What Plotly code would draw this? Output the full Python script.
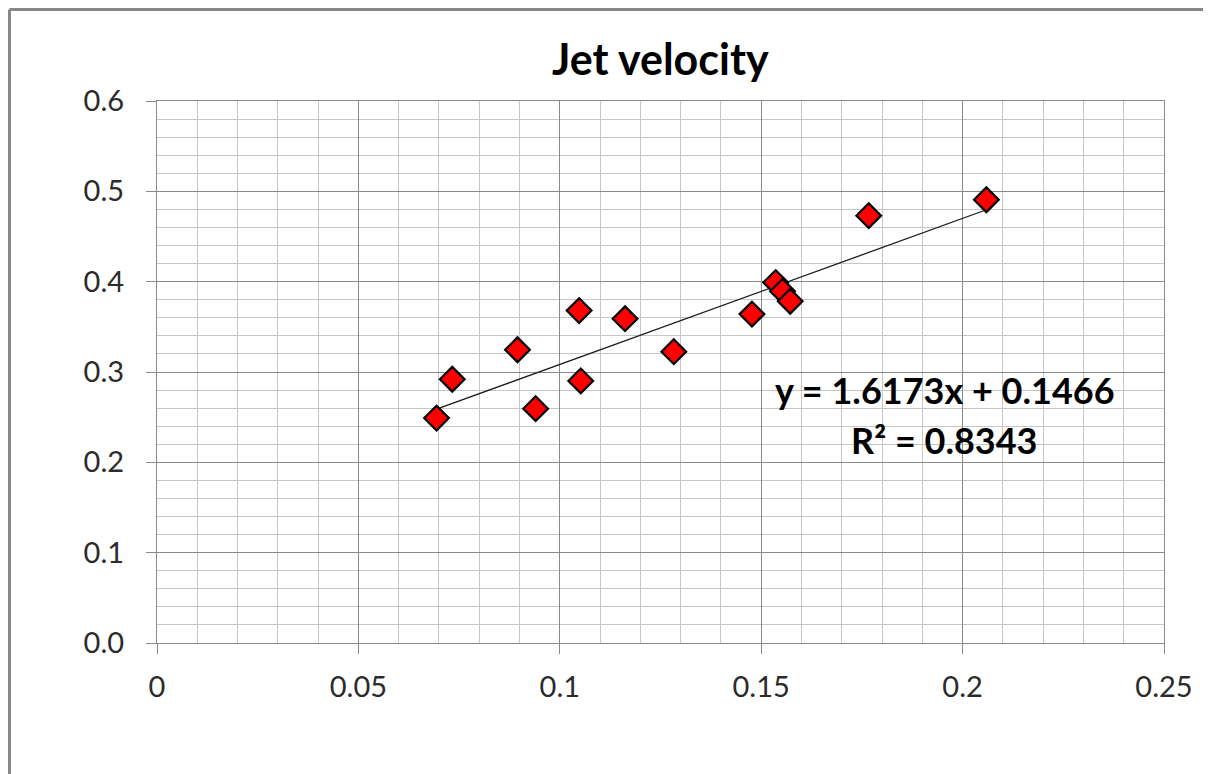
import plotly.graph_objects as go

# Data
x_vals = [0.0694, 0.0733, 0.0895, 0.0940, 0.1048, 0.1052, 0.1162, 0.1283,
          0.1477, 0.1536, 0.1553, 0.1572, 0.1767, 0.2059]
y_vals = [0.2490, 0.2920, 0.3246, 0.2594, 0.3680, 0.2901, 0.3590, 0.3225,
          0.3641, 0.3990, 0.3893, 0.3783, 0.4731, 0.4907]
slope = 1.6173
intercept = 0.1466
r2 = 0.8343
title_text = "Jet velocity"
x_ticks = [0, 0.05, 0.1, 0.15, 0.2, 0.25]
y_ticks = [0.0, 0.1, 0.2, 0.3, 0.4, 0.5, 0.6]

FONT = "Lato, 'Open Sans', sans-serif"

x_line = [min(x_vals), max(x_vals)]
y_line = [slope * v + intercept for v in x_line]

fig = go.Figure()
fig.add_trace(go.Scatter(
    x=x_line, y=y_line, mode="lines",
    line=dict(color="#1a1a1a", width=1.3),
    hoverinfo="skip", showlegend=False,
))
fig.add_trace(go.Scatter(
    x=x_vals, y=y_vals, mode="markers",
    marker=dict(symbol="diamond", size=19, color="#ff0000",
                line=dict(color="#000000", width=2.2)),
    showlegend=False,
))

grid_major = "#8a8a8a"
grid_minor = "#c6c6c6"
tick_font = dict(family=FONT, size=29, color="#2b2b2b")

fig.update_xaxes(
    range=[0, 0.25], tickvals=x_ticks, ticktext=[f"{v:g}" for v in x_ticks],
    showgrid=True, gridcolor=grid_major, gridwidth=1,
    minor=dict(dtick=0.01, showgrid=True, gridcolor=grid_minor, gridwidth=1, ticks=""),
    showline=True, linecolor=grid_major, linewidth=1.3, mirror=True,
    ticks="outside", ticklen=10, tickcolor=grid_major, tickwidth=1,
    ticklabelstandoff=8,
    tickfont=tick_font, zeroline=False, fixedrange=True,
)
fig.update_yaxes(
    range=[0, 0.6], tickvals=y_ticks, ticktext=[f"{v:.1f}" for v in y_ticks],
    showgrid=True, gridcolor=grid_major, gridwidth=1,
    minor=dict(dtick=0.02, showgrid=True, gridcolor=grid_minor, gridwidth=1, ticks=""),
    showline=True, linecolor=grid_major, linewidth=1.3, mirror=True,
    ticks="outside", ticklen=10, tickcolor=grid_major, tickwidth=1,
    ticklabelstandoff=16,
    tickfont=tick_font, zeroline=False, fixedrange=True,
)

fig.add_annotation(
    x=0.5, y=1.079, xref="paper", yref="paper", showarrow=False,
    text=f"<b>{title_text}</b>", font=dict(family=FONT, size=43, color="#000000"),
    xanchor="center", yanchor="middle",
)
fig.add_annotation(
    x=0.7825, y=0.467, xref="paper", yref="paper", showarrow=False,
    text=f"<b>y = {slope:.4f}x + {intercept:.4f}</b>",
    font=dict(family=FONT, size=36, color="#000000"),
    xanchor="center", yanchor="middle",
)
fig.add_annotation(
    x=0.7825, y=0.3745, xref="paper", yref="paper", showarrow=False,
    text=f"<b>R² = {r2:.4f}</b>",
    font=dict(family=FONT, size=36, color="#000000"),
    xanchor="center", yanchor="middle",
)

# Outer chart-area frame: only top and left edges are visible in the reference
frame_style = dict(color="#878787", width=3)
fig.add_shape(type="line", xref="paper", yref="paper",
              x0=-0.1465, x1=1.2, y0=1.1688, y1=1.1688,
              line=frame_style, layer="above")
fig.add_shape(type="line", xref="paper", yref="paper",
              x0=-0.1465, x1=-0.1465, y0=-0.4, y1=1.1688,
              line=frame_style, layer="above")

fig.update_layout(
    width=1211, height=774,
    margin=dict(l=149, r=55, t=93, b=139),
    paper_bgcolor="white", plot_bgcolor="white",
    font=dict(family=FONT),
)

fig.write_html("out.html")
